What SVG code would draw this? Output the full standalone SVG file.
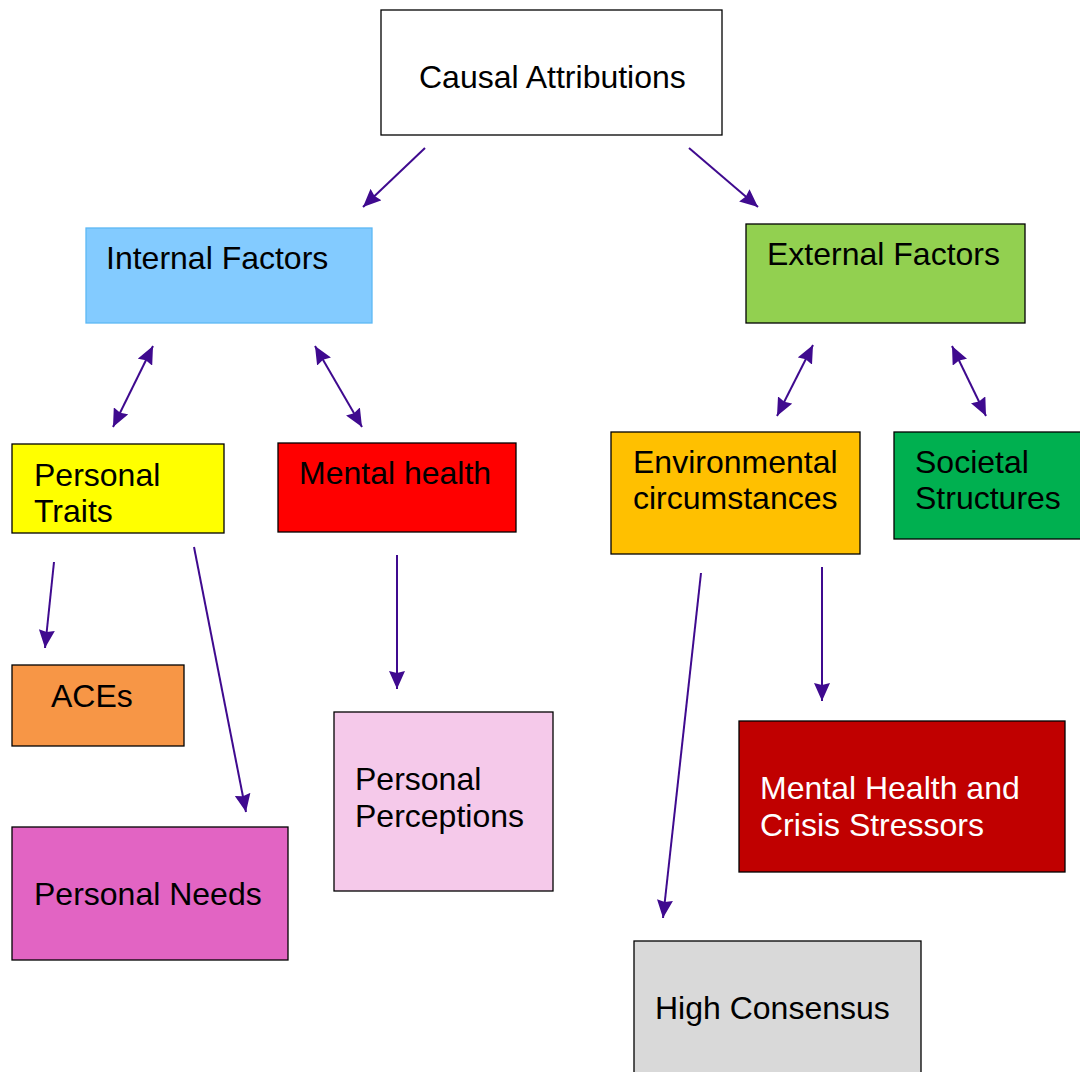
<svg xmlns="http://www.w3.org/2000/svg" width="1080" height="1072" viewBox="0 0 1080 1072">
<style>
.box{stroke:#000;stroke-width:1.3}
.t{font-family:"Liberation Sans",Arial,sans-serif;font-size:32px;fill:#000}
.w{fill:#fff}
.c{stroke:#3f0a8f;stroke-width:2;fill:none}
.s{marker-end:url(#ah)}
.d{marker-end:url(#ah);marker-start:url(#ah)}
</style>
<defs>
<marker id="ah" markerUnits="userSpaceOnUse" viewBox="0 0 18 16" refX="18" refY="8" markerWidth="18" markerHeight="16" orient="auto-start-reverse">
<path d="M0,0 L18,8 L0,16 L2,8 z" fill="#3f0a8f"/>
</marker>
</defs>
<rect width="1080" height="1072" fill="#fff"/>
<g id="connectors">
<line class="c s" x1="425" y1="148" x2="363" y2="207"/>
<line class="c s" x1="689" y1="148" x2="758" y2="207"/>
<line class="c d" x1="153" y1="346" x2="113" y2="427"/>
<line class="c d" x1="315" y1="346" x2="362" y2="427"/>
<line class="c d" x1="813" y1="345" x2="777" y2="416"/>
<line class="c d" x1="952" y1="346" x2="986" y2="416"/>
<line class="c s" x1="54" y1="562" x2="45" y2="648"/>
<line class="c s" x1="194" y1="547" x2="246" y2="812"/>
<line class="c s" x1="397" y1="555" x2="397" y2="689"/>
<line class="c s" x1="701" y1="573" x2="663" y2="918"/>
<line class="c s" x1="822" y1="567" x2="822" y2="701"/>
</g>
<g id="causal">
<rect class="box" x="381" y="10" width="341" height="125" fill="#fff"/>
<text class="t" x="419" y="88">Causal Attributions</text>
</g>
<g id="internal">
<rect x="86" y="228" width="286" height="95" fill="#83cbff" stroke="#5cb8f5" stroke-width="1.3"/>
<text class="t" x="106" y="269">Internal Factors</text>
</g>
<g id="external">
<rect class="box" x="746" y="224" width="279" height="99" fill="#92d050"/>
<text class="t" x="767" y="265">External Factors</text>
</g>
<g id="traits">
<rect class="box" x="12" y="444" width="212" height="89" fill="#ffff00"/>
<text class="t" x="34" y="486">Personal</text>
<text class="t" x="34" y="522">Traits</text>
</g>
<g id="mentalhealth">
<rect class="box" x="278" y="443" width="238" height="89" fill="#ff0000"/>
<text class="t" x="299" y="484">Mental health</text>
</g>
<g id="environmental">
<rect class="box" x="611" y="432" width="249" height="122" fill="#ffc000"/>
<text class="t" x="633" y="473">Environmental</text>
<text class="t" x="633" y="509">circumstances</text>
</g>
<g id="societal">
<rect class="box" x="894" y="432" width="190" height="107" fill="#00b050"/>
<text class="t" x="915" y="473">Societal</text>
<text class="t" x="915" y="509">Structures</text>
</g>
<g id="aces">
<rect class="box" x="12" y="665" width="172" height="81" fill="#f79646"/>
<text class="t" x="51" y="707">ACEs</text>
</g>
<g id="needs">
<rect class="box" x="12" y="827" width="276" height="133" fill="#e264c3"/>
<text class="t" x="34" y="905">Personal Needs</text>
</g>
<g id="perceptions">
<rect class="box" x="334" y="712" width="219" height="179" fill="#f5c9ea"/>
<text class="t" x="355" y="790">Personal</text>
<text class="t" x="355" y="827">Perceptions</text>
</g>
<g id="stressors">
<rect class="box" x="739" y="721" width="326" height="151" fill="#c00000"/>
<text class="t w" x="760" y="799">Mental Health and</text>
<text class="t w" x="760" y="836">Crisis Stressors</text>
</g>
<g id="consensus">
<rect class="box" x="634" y="941" width="287" height="140" fill="#d9d9d9"/>
<text class="t" x="655" y="1019">High Consensus</text>
</g>
</svg>
